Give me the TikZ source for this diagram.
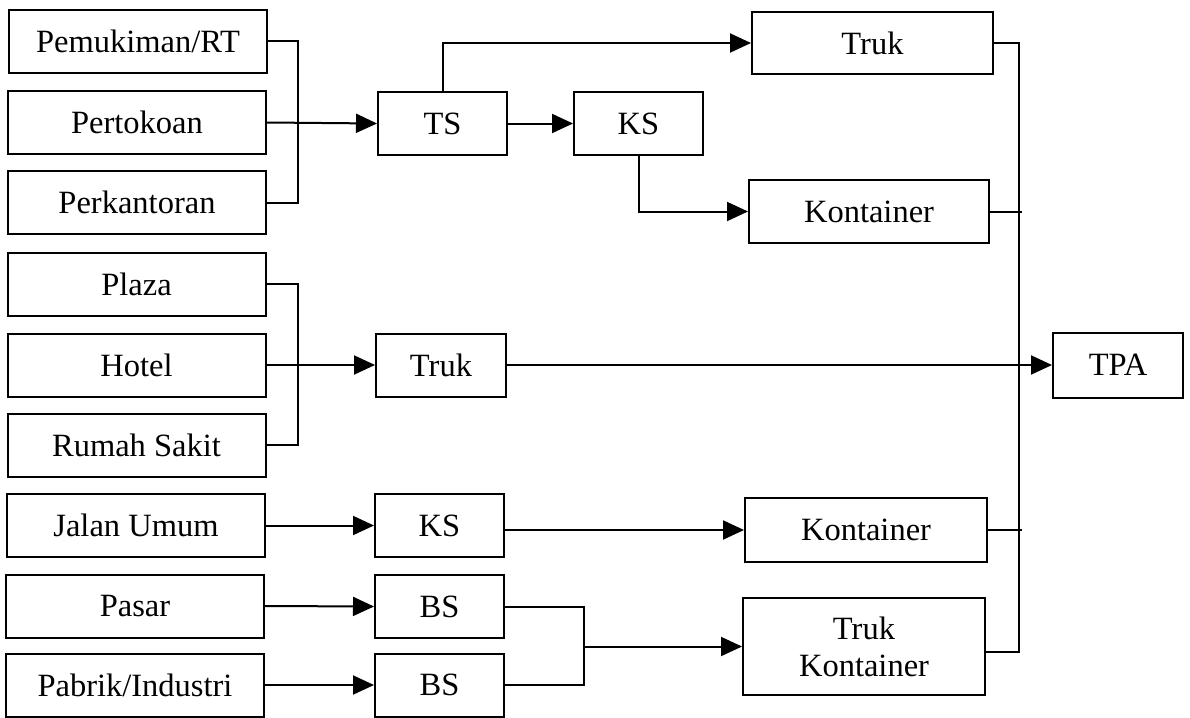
\documentclass[tikz,border=0pt]{standalone}
\usepackage{fontspec}
\setmainfont{Liberation Serif}
\usetikzlibrary{arrows.meta}
\begin{document}
\begin{tikzpicture}[x=1pt,y=-1pt,
  box/.style={draw=black, line width=2pt, inner sep=0pt, align=center,
    font=\fontsize{32.5}{37}\selectfont},
  leftbox/.style={box, minimum width=258pt, minimum height=63pt},
  smallbox/.style={box, minimum width=129pt, minimum height=63pt},
  widebox/.style={box, minimum width=241pt, minimum height=63pt},
  link/.style={line width=2pt},
  arr/.style={link, -{Triangle[length=21pt,width=19pt]}}]
\useasboundingbox (0,0) rectangle (1190,717);
% left sources
\node[leftbox] (pem)    at (138,41.5)  {Pemukiman/RT};
\node[leftbox] (tok)    at (137,122.5) {Pertokoan};
\node[leftbox] (kan)    at (137,202.5) {Perkantoran};
\node[leftbox] (plaza)  at (136.5,284) {Plaza};
\node[leftbox] (hotel)  at (136.5,365) {Hotel};
\node[leftbox] (rs)     at (136.5,445) {Rumah Sakit};
\node[leftbox] (jalan)  at (136,525.5) {Jalan Umum};
\node[leftbox] (pasar)  at (135,606)   {Pasar};
\node[leftbox] (pabrik) at (135,685)   {Pabrik/Industri};
% middle
\node[smallbox] (ts)  at (442.5,123.5) {TS};
\node[smallbox] (ks1) at (638.5,123.5) {KS};
\node[smallbox, minimum width=130pt] (trukB) at (441,365) {Truk};
\node[smallbox] (ks2) at (439.5,525.5) {KS};
\node[smallbox] (bs1) at (439.5,606.5) {BS};
\node[smallbox] (bs2) at (439.5,685)   {BS};
% right
\node[widebox, minimum height=62pt] (trukA) at (872.5,43) {Truk};
\node[widebox, minimum width=240pt] (kontA) at (869,211.5) {Kontainer};
\node[widebox, minimum width=242pt, minimum height=64pt] (kontB) at (866,530) {Kontainer};
\node[widebox, minimum width=242pt, minimum height=97pt] (trukkont) at (864,646.5) {Truk\\Kontainer};
\node[box, minimum width=130pt, minimum height=65pt] (tpa) at (1118,365) {TPA};
% junctions
\coordinate (j1) at (298,122.5);
\coordinate (j2) at (298,365);
\coordinate (j3) at (584,646.5);
\coordinate (c4) at (1019,652);
% brackets
\draw[link] (pem.east) -| (j1) |- (kan.east);
\draw[arr] (tok.east) -- (ts.west);
\draw[link] (plaza.east) -| (j2) |- (rs.east);
\draw[arr] (hotel.east) -- (trukB.west);
\draw[arr] (ts.north) |- (trukA.west);
\draw[arr] (ts.east) -- (ks1.west);
\draw[arr] (ks1.south) |- (kontA.west);
\draw[arr] (trukB.east) -- (tpa.west);
\draw[arr] (jalan.east) -- (ks2.west);
\draw[arr] (ks2.east |- kontB.west) -- (kontB.west);
\draw[arr] (pasar.east) -- (bs1.west);
\draw[arr] (pabrik.east) -- (bs2.west);
\draw[link] (bs1.east) -| (j3) |- (bs2.east);
\draw[arr] (j3) -- (trukkont.west);
% collector to TPA
\draw[link] (trukA.east) -| (c4) -- (trukkont.east |- c4);
\draw[link] (kontA.east) -- ([xshift=3pt]kontA.east -| c4);
\draw[link] (kontB.east) -- ([xshift=3pt]kontB.east -| c4);
\end{tikzpicture}
\end{document}
